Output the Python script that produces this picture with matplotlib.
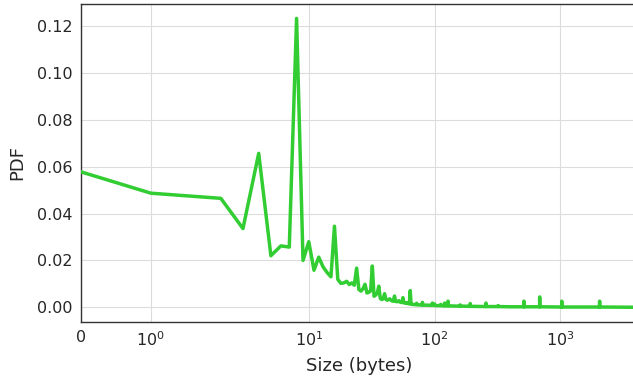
import matplotlib
matplotlib.use("Agg")
import matplotlib.pyplot as plt

# Dense part: sizes 0..64 bytes
head_sizes = list(range(0, 65))
head_pdf = [
    0.0578, 0.0487, 0.0465, 0.0336, 0.0657, 0.0220, 0.0262, 0.0257, 0.1233, 0.0200,
    0.0280, 0.0158, 0.0214, 0.0172, 0.0148, 0.0130, 0.0346, 0.0119, 0.0102, 0.0104,
    0.0111, 0.0097, 0.0104, 0.0094, 0.0167, 0.0076, 0.0069, 0.0080, 0.0098, 0.0061,
    0.0064, 0.0070, 0.0176, 0.0047, 0.0052, 0.0060, 0.0090, 0.0038, 0.0033, 0.0036,
    0.0058, 0.0034, 0.0030, 0.0033, 0.0036, 0.0030, 0.0027, 0.0026, 0.0048, 0.0025,
    0.0024, 0.0024, 0.0028, 0.0022, 0.0021, 0.0020, 0.0041, 0.0019, 0.0018, 0.0017,
    0.0020, 0.0016, 0.0015, 0.0015, 0.0071,
]
# Sparse tail
tail_sizes = [65, 66, 68, 70, 71, 72, 73, 76, 79, 80, 81, 88, 95, 96, 97, 100, 101,
              111, 112, 113, 119, 120, 121, 127, 128, 129, 150, 159, 160, 161,
              191, 192, 193, 255, 256, 257, 300, 319, 320, 321, 400, 511, 512, 513,
              683, 684, 685, 1023, 1024, 1025, 2047, 2048, 2049, 4096]
tail_pdf = [0.0013, 0.0012, 0.0012, 0.0011, 0.0011, 0.0017, 0.0010, 0.0010, 0.0009, 0.0021,
            0.0009, 0.0009, 0.0008, 0.0018, 0.0008, 0.0014, 0.0007,
            0.0007, 0.0012, 0.0007, 0.0006, 0.0018, 0.0006, 0.0006, 0.0026, 0.0006,
            0.0005, 0.0005, 0.0010, 0.0005,
            0.0004, 0.0016, 0.0004, 0.0003, 0.0018, 0.0003, 0.0003, 0.0003, 0.0007, 0.0003,
            0.0002, 0.0002, 0.0026, 0.0002,
            0.0002, 0.0044, 0.0002, 0.0001, 0.0026, 0.0001, 0.0001, 0.0026, 0.0001, 0.0000]

sizes = head_sizes + tail_sizes
pdf = head_pdf + tail_pdf

W, H = 633, 379
fig = plt.figure(figsize=(W / 100, H / 100), dpi=100)
left, right, bottom, top = 81, 637.5, 321.7, 4
ax = fig.add_axes([left / W, (H - bottom) / H, (right - left) / W, (bottom - top) / H])

ax.plot(sizes, pdf, color="#32CD32", linewidth=2.5, zorder=3)
ax.set_xscale("symlog", linthresh=2, linscale=1)
ax.set_xlim(0, 4096)
ax.set_xticks([0, 1, 10, 100, 1000])
ax.set_xticklabels(["0", "$10^0$", "$10^1$", "$10^2$", "$10^3$"])
ax.set_yticks([0.0, 0.02, 0.04, 0.06, 0.08, 0.10, 0.12])
ax.set_yticklabels(["0.00", "0.02", "0.04", "0.06", "0.08", "0.10", "0.12"])
ax.xaxis.set_minor_locator(matplotlib.ticker.NullLocator())

ax.grid(True, color="#dcdcdc", linewidth=0.8, zorder=0)
ax.tick_params(axis="both", length=0, pad=6, labelsize=11.5, labelcolor="#262626")
for s in ["left", "top", "bottom"]:
    ax.spines[s].set_color("#333333")
    ax.spines[s].set_linewidth(1.0)
ax.spines["right"].set_visible(False)

ax.set_xlabel("Size (bytes)", fontsize=13, color="#262626", labelpad=6)
ax.set_ylabel("PDF", fontsize=13, color="#262626", labelpad=8)

fig.savefig("out.png", dpi=100)
